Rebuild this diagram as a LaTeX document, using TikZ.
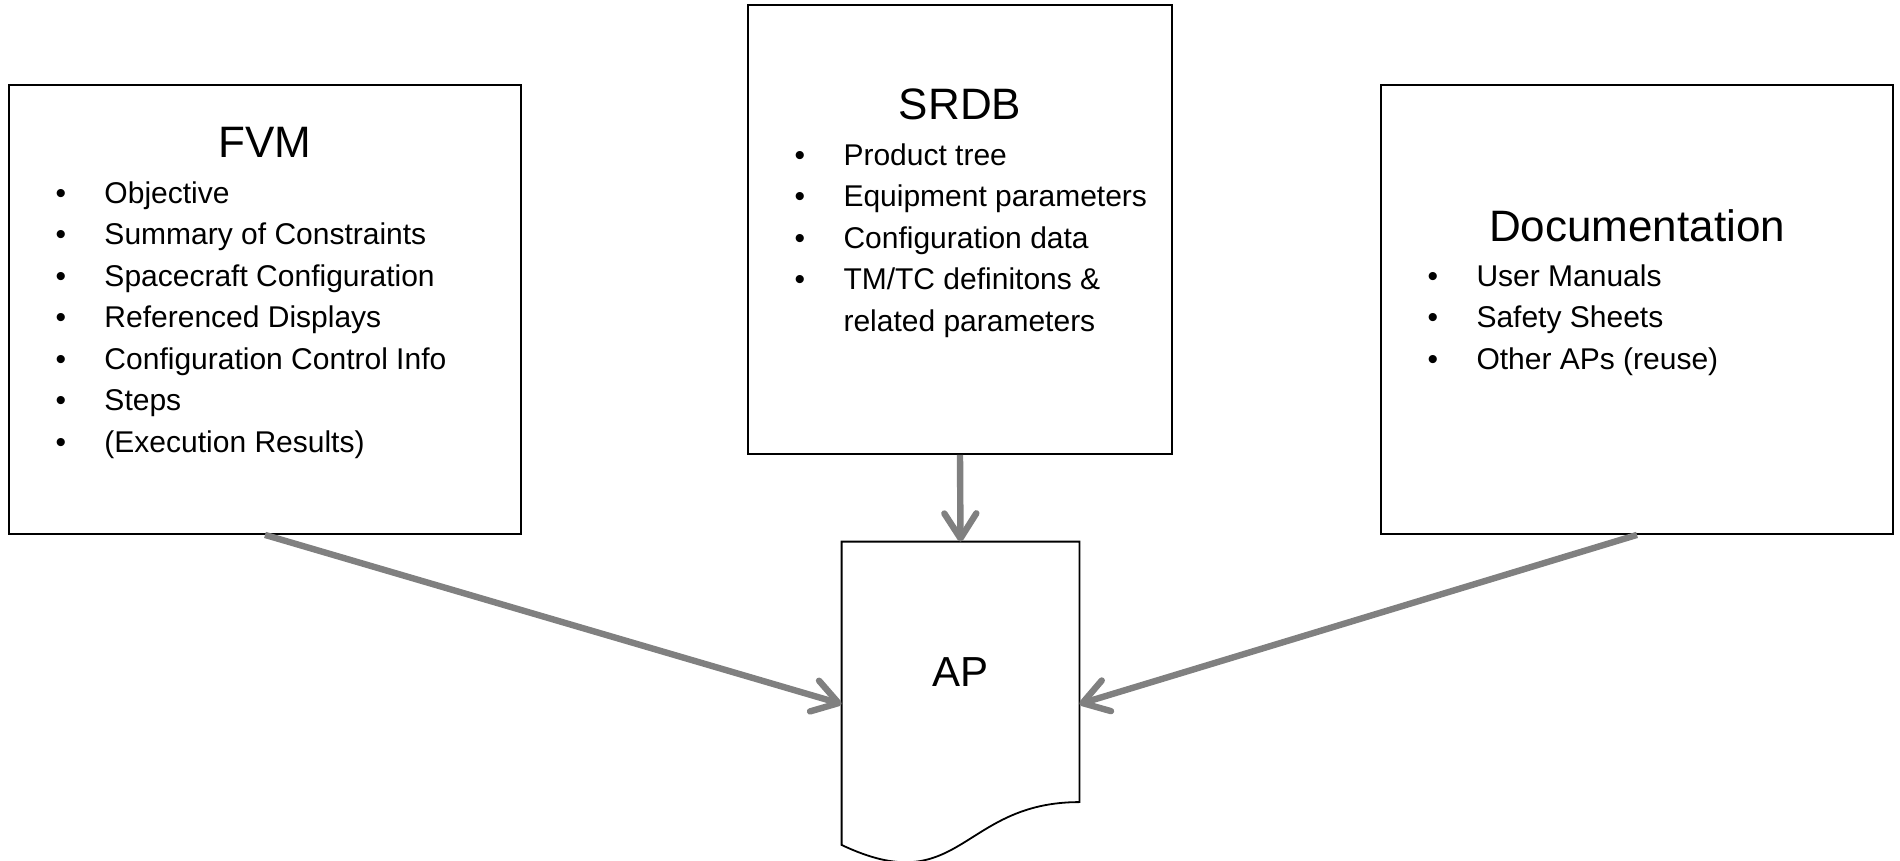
\documentclass[tikz,border=0pt]{standalone}
\usepackage{fontspec}
\setmainfont{Liberation Sans}
\usetikzlibrary{arrows.meta,calc}

\definecolor{feedgray}{HTML}{808080}
\newcommand{\bitem}[1]{\makebox[24.5pt][l]{\textbullet}#1}
\newcommand{\bcont}[1]{\hspace*{24.5pt}#1}

\begin{document}
\begin{tikzpicture}[x=0.5pt, y=-0.5pt,
    srcbox/.style={draw, line width=0.9pt, minimum width=256pt, minimum height=224.5pt, inner sep=0pt},
    boxtitle/.style={font=\fontsize{22}{26}\selectfont, anchor=base, inner sep=0pt},
    boxlist/.style={font=\fontsize{15}{20.75}\selectfont, align=left, anchor=base west, inner sep=0pt},
    feed/.style={draw=feedgray, line width=3.2pt, -{Straight Barb[length=12.5pt,width=16pt,round]}}]
    \useasboundingbox (0,0) rectangle (1900,861);

    % Sources
    \node[srcbox] (fvm) at (265,309.5) {};
    \node[srcbox, minimum width=212pt] (srdb) at (960,229.5) {};
    \node[srcbox] (doc) at (1637,309.5) {};

    % lists are anchored at the baseline of their last line
    \node[boxtitle] (fvmtitle) at ([yshift=-36.5pt]fvm.north) {FVM};
    \node[boxlist] (fvmlist) at ([xshift=23.5pt, yshift=-184pt]fvm.north west) {%
        \bitem{Objective}\\ \bitem{Summary of Constraints}\\ \bitem{Spacecraft Configuration}\\
        \bitem{Referenced Displays}\\ \bitem{Configuration Control Info}\\ \bitem{Steps}\\
        \bitem{(Execution Results)}};

    \node[boxtitle] (srdbtitle) at ([yshift=-57.5pt]srdb.north) {SRDB};
    \node[boxlist] (srdblist) at ([xshift=23.5pt, yshift=-163.5pt]srdb.north west) {%
        \bitem{Product tree}\\ \bitem{Equipment parameters}\\ \bitem{Configuration data}\\
        \bitem{TM/TC definitons \&}\\ \bcont{related parameters}};

    \node[boxtitle] (doctitle) at ([yshift=-78.5pt]doc.north) {Documentation};
    \node[boxlist] (doclist) at ([xshift=23.5pt, yshift=-142.5pt]doc.north west) {%
        \bitem{User Manuals}\\ \bitem{Safety Sheets}\\ \bitem{Other APs (reuse)}};

    % Document shape
    \node[minimum width=118.5pt, minimum height=162pt, inner sep=0pt] (ap) at (960.5,704) {};
    \draw[line width=0.9pt] (ap.north west) -- (ap.north east)
        -- ($(ap.north east)!0.802!(ap.south east)$)
        .. controls ($(ap.north)!0.802!(ap.south)$) and ($(ap.north)!1.1075!(ap.south)$)
        .. ($(ap.north west)!0.9339!(ap.south west)$) -- cycle;
    \node[font=\fontsize{21}{25}\selectfont, anchor=base, inner sep=0pt] (aplabel)
        at ([yshift=-72.5pt]ap.north) {AP};

    % Arrows
    \draw[feed] (fvm.south) -- (ap.west);
    \draw[feed] (srdb.south) -- (ap.north);
    \draw[feed] (doc.south) -- (ap.east);
\end{tikzpicture}
\end{document}
